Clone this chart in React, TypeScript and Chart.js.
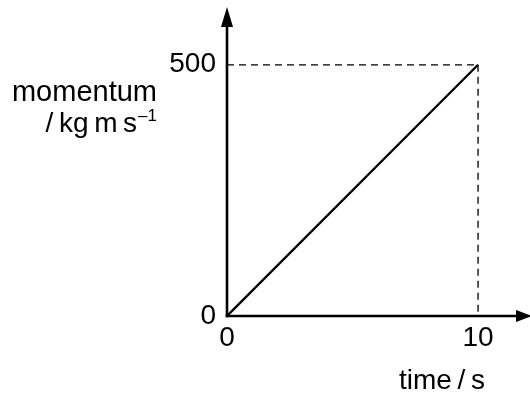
import React, { useEffect, useRef } from "react";
import { Chart, registerables } from "chart.js";

Chart.register(...registerables);

// Data
const lineTimes = [0, 10];
const lineMomentum = [0, 500];
const guideHTimes = [0, 10];
const guideHMomentum = [500, 500];
const guideVTimes = [10, 10];
const guideVMomentum = [500, 0];
const xTickValues = [0, 10];
const yTickValues = [0, 500];
const xAxisMax = 12.07;
const yAxisMax = 615;
const yTitleLines = ["momentum", "/\u2009kg\u2009m\u2009s"];
const yTitleSup = "\u20131";
const xTitle = "time\u2009/\u2009s";

const FONT = "'Liberation Sans', Arial, Helvetica, sans-serif";

const toPoints = (xs: number[], ys: number[]) => xs.map((x, i) => ({ x, y: ys[i] }));

const axesPlugin = {
  id: "axesArrows",
  afterDraw(chart: any) {
    const { ctx, chartArea, scales } = chart;
    const x0 = scales.x.getPixelForValue(0);
    const y0 = scales.y.getPixelForValue(0);
    ctx.save();
    ctx.strokeStyle = "#000";
    ctx.fillStyle = "#000";
    ctx.lineWidth = 2.6;
    ctx.lineCap = "butt";
    // x axis
    const xr = chartArea.right + 2;
    const ax = 16;
    const aw = 6;
    ctx.beginPath();
    ctx.moveTo(x0 - 1.3, y0);
    ctx.lineTo(xr - ax + 2, y0);
    ctx.stroke();
    ctx.beginPath();
    ctx.moveTo(xr, y0);
    ctx.lineTo(xr - ax, y0 - aw);
    ctx.lineTo(xr - ax, y0 + aw);
    ctx.closePath();
    ctx.fill();
    // y axis
    const yt = chartArea.top;
    const ay = 20;
    ctx.beginPath();
    ctx.moveTo(x0, y0 + 1.3);
    ctx.lineTo(x0, yt + ay - 2);
    ctx.stroke();
    ctx.beginPath();
    ctx.moveTo(x0, yt);
    ctx.lineTo(x0 - aw, yt + ay);
    ctx.lineTo(x0 + aw, yt + ay);
    ctx.closePath();
    ctx.fill();

    // titles
    ctx.textBaseline = "alphabetic";
    ctx.textAlign = "right";
    const rightEdge = 157;
    ctx.font = `29px ${FONT}`;
    ctx.fillText(yTitleLines[0], rightEdge, 101);
    ctx.font = `17px ${FONT}`;
    const supW = ctx.measureText(yTitleSup).width;
    ctx.fillText(yTitleSup, rightEdge, 121);
    ctx.font = `28px ${FONT}`;
    ctx.fillText(yTitleLines[1], rightEdge - supW - 1, 132);

    ctx.textAlign = "left";
    ctx.fillText(xTitle, 399, 389);
    ctx.restore();
  },
};

export default function App() {
  const ref = useRef<HTMLCanvasElement | null>(null);
  useEffect(() => {
    if (!ref.current) return;
    const chart = new Chart(ref.current, {
      type: "scatter",
      data: {
        datasets: [
          {
            data: toPoints(lineTimes, lineMomentum),
            showLine: true,
            borderColor: "#000",
            borderWidth: 2.3,
            pointRadius: 0,
          },
          {
            data: toPoints(guideHTimes, guideHMomentum),
            showLine: true,
            borderColor: "#000",
            borderWidth: 1.3,
            borderDash: [7, 5],
            pointRadius: 0,
          },
          {
            data: toPoints(guideVTimes, guideVMomentum),
            showLine: true,
            borderColor: "#000",
            borderWidth: 1.3,
            borderDash: [7, 5],
            pointRadius: 0,
          },
        ],
      },
      options: {
        animation: false,
        responsive: false,
        devicePixelRatio: 1,
        layout: { padding: { top: 7, right: 0, left: 0, bottom: 0 } },
        plugins: { legend: { display: false }, tooltip: { enabled: false } },
        scales: {
          x: {
            type: "linear",
            min: 0,
            max: xAxisMax,
            afterBuildTicks: (s: any) => {
              s.ticks = xTickValues.map((v) => ({ value: v }));
            },
            afterFit: (s: any) => {
              s.height = 78;
              s.paddingLeft = 0;
              s.paddingRight = 0;
              s.paddingTop = 0;
              s.paddingBottom = 0;
            },
            grid: { display: false, drawTicks: false },
            border: { display: false },
            ticks: {
              color: "#000",
              font: { family: FONT, size: 28 },
              padding: 5,
              maxRotation: 0,
              autoSkip: false,
            },
          },
          y: {
            type: "linear",
            min: 0,
            max: yAxisMax,
            afterBuildTicks: (s: any) => {
              s.ticks = yTickValues.map((v) => ({ value: v }));
            },
            afterFit: (s: any) => {
              s.width = 227;
              s.paddingLeft = 0;
              s.paddingRight = 0;
              s.paddingTop = 0;
              s.paddingBottom = 0;
            },
            grid: { display: false, drawTicks: false },
            border: { display: false },
            ticks: {
              color: "#000",
              font: { family: FONT, size: 28 },
              padding: 11,
              autoSkip: false,
            },
          },
        },
      },
      plugins: [axesPlugin],
    });
    return () => chart.destroy();
  }, []);
  return (
    <div style={{ position: "absolute", left: 0, top: 0, width: 530, height: 394, background: "#fff" }}>
      <canvas ref={ref} width={530} height={394} style={{ display: "block" }} />
    </div>
  );
}
